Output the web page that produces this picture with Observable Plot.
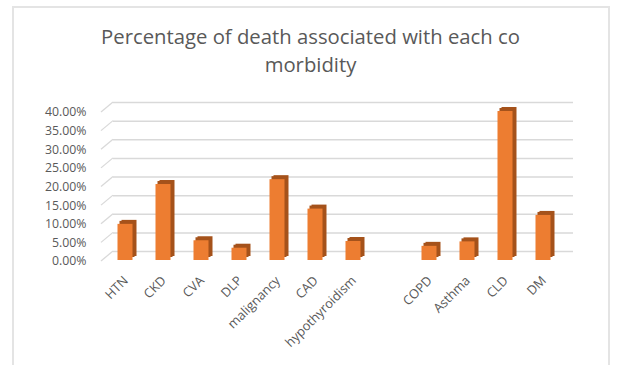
<!DOCTYPE html>
<html>
<head>
<meta charset="utf-8">
<script src="https://cdn.jsdelivr.net/npm/d3@7"></script>
<script src="https://cdn.jsdelivr.net/npm/@observablehq/plot@0.6"></script>
<style>
  html, body { margin: 0; padding: 0; background: #fff; overflow: hidden; }
  #wrap { position: relative; width: 617px; height: 365px; overflow: hidden; }
  #frame { position: absolute; left: 12px; top: 6px; width: 598px; height: 400px; border: 2px solid #e4e4e4; box-sizing: border-box; }
  #title { position: absolute; left: 2px; top: 22px; width: 617px; text-align: center; font-family: "Open Sans", sans-serif; font-size: 20.3px; line-height: 28px; color: #595959; }
  #chart { position: absolute; left: 0; top: 0; }
</style>
</head>
<body>
<div id="wrap">
  <div id="frame"></div>
  <div id="chart"></div>
  <div id="title">Percentage of death associated with each co<br>morbidity</div>
</div>
<script>
// Data. The blank category is the empty gap on the axis.
const categories = ["HTN", "CKD", "CVA", "DLP", "malignancy", "CAD", "hypothyroidism", " ", "COPD", "Asthma", "CLD", "DM"];
const values = [0.097, 0.204, 0.053, 0.033, 0.217, 0.138, 0.051, null, 0.038, 0.050, 0.400, 0.121];
const yTicks = [0, 0.05, 0.10, 0.15, 0.20, 0.25, 0.30, 0.35, 0.40];

const data = categories.map((c, i) => ({cat: c, val: values[i]})).filter(d => d.val != null);

const front = "#ed7d31";
const side = "#a5521b";
const grid = "#d9d9d9";
const barDx = 3.5;

// slanted (depth) part of each gridline, drawn through the y scale
function depthLines(index, scales, values, dimensions) {
  const y = scales.y;
  const g = d3.create("svg:g");
  const x0 = dimensions.marginLeft;
  for (const t of yTicks) {
    g.append("line")
      .attr("x1", x0).attr("y1", y(t))
      .attr("x2", x0 + 12).attr("y2", y(t) - 10)
      .attr("stroke", grid).attr("stroke-width", 1.3);
  }
  return g.node();
}

const chart = Plot.plot({
  width: 617,
  height: 365,
  marginLeft: 101,
  marginRight: 56,
  marginTop: 112,
  marginBottom: 104,
  style: {fontFamily: "'Open Sans', sans-serif", fontSize: "12.3px", color: "#595959", background: "transparent", overflow: "visible"},
  x: {domain: categories, paddingInner: 0.6, paddingOuter: 0.3, axis: null},
  y: {domain: [0, 0.40], ticks: yTicks, tickFormat: d3.format(".2%"), tickSize: 0, tickPadding: 15, label: null},
  marks: [
    Plot.ruleY(yTicks, {y: d => d, dx: 12, dy: -10, stroke: grid, strokeWidth: 1.5}),
    depthLines,
    Plot.barY(data, {x: "cat", y: "val", fill: side, dx: barDx + 4, dy: -5}),
    Plot.barY(data, {x: "cat", y: "val", fill: side, dx: barDx + 2, dy: -4}),
    Plot.barY(data, {x: "cat", y: "val", fill: front, dx: barDx, dy: -1}),
    Plot.text(categories, {x: d => d, y: () => 0, text: d => d, rotate: -45, textAnchor: "end", lineAnchor: "middle", dy: 17, dx: 4, fill: "#595959", fontSize: 12.8})
  ]
});
document.getElementById("chart").appendChild(chart);
</script>
</body>
</html>
